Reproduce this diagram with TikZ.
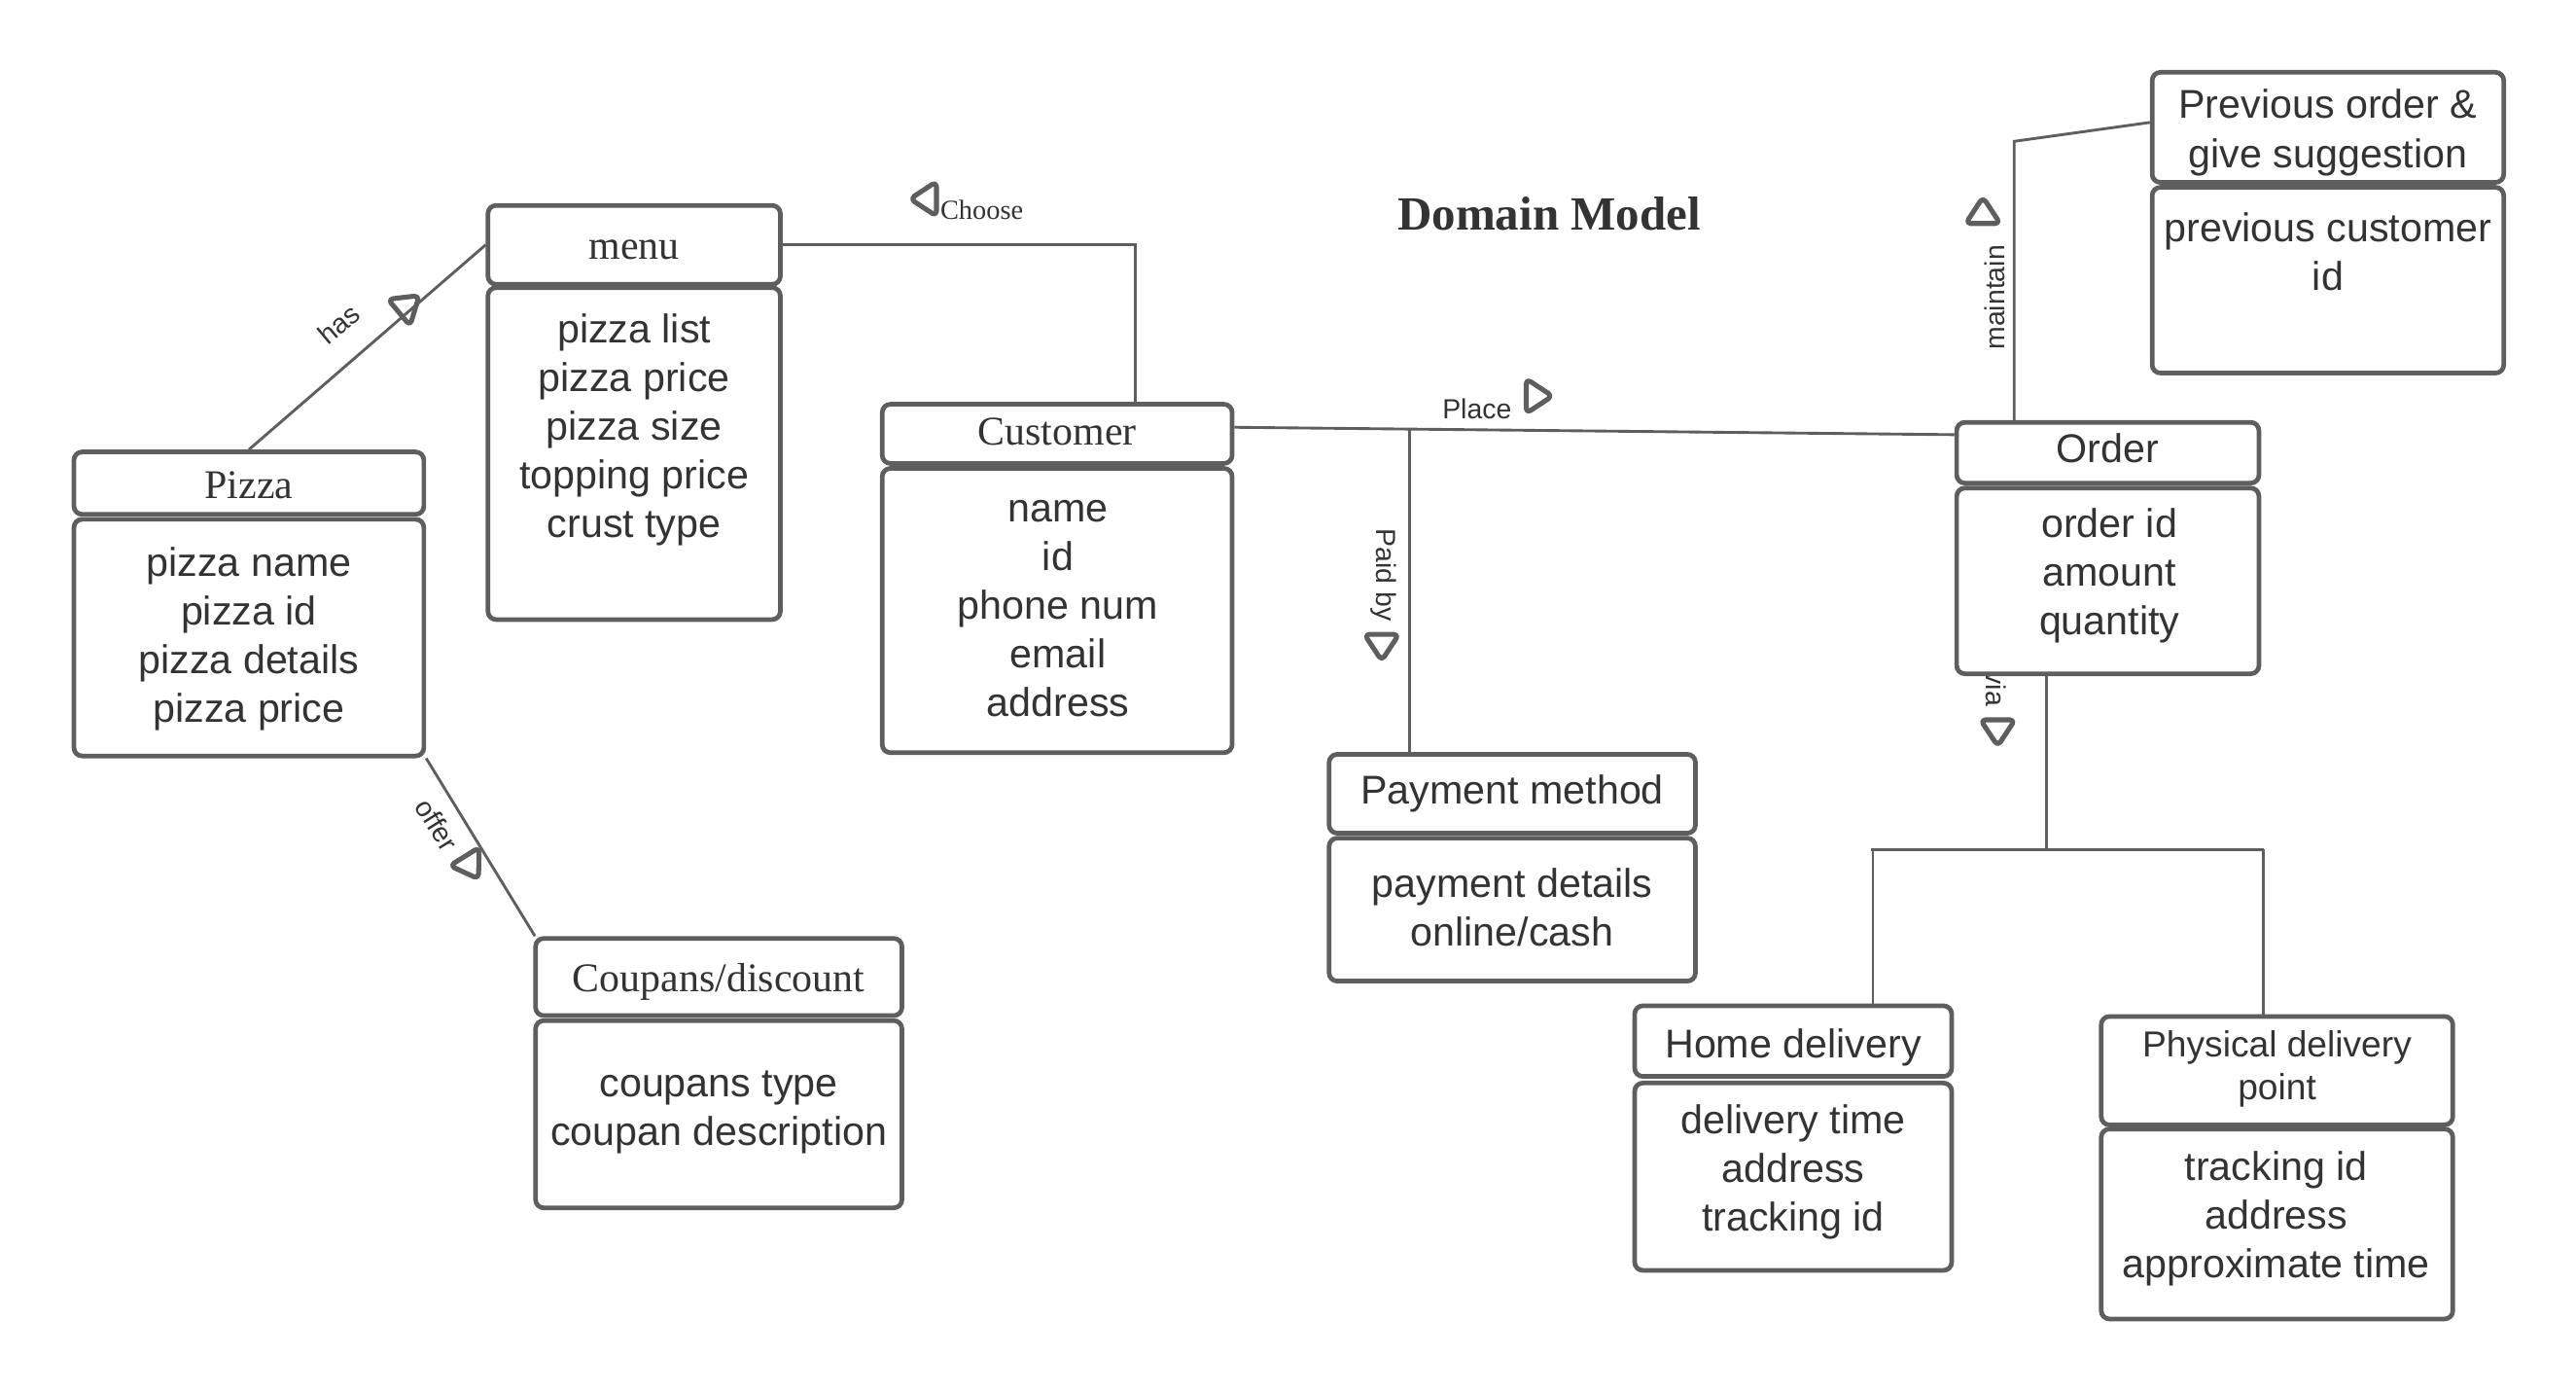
\documentclass[tikz,border=0pt]{standalone}
\usepackage{fontspec}
\setmainfont{Liberation Sans}
\newfontfamily\serifhead{Liberation Serif}
\usetikzlibrary{calc}
\definecolor{boxgray}{HTML}{5E5E5E}
\definecolor{txt}{HTML}{333333}
\newcommand\opentri[3]{\draw[tri, shift={(#1,#2)}, rotate=#3] (8,0) -- (-8,10.5) -- (-8,-10.5) -- cycle;}
\begin{document}
\begin{tikzpicture}[x=0.5pt,y=-0.5pt,
  box/.style={draw=boxgray, line width=1.4pt, rounded corners=2.5pt, fill=white, inner sep=0pt},
  shtxt/.style={text=txt, inner sep=0pt, font=\serifhead\fontsize{12.4}{15}\selectfont},
  hhtxt/.style={text=txt, inner sep=0pt, align=center, font=\fontsize{12.2}{15}\selectfont},
  bodytxt/.style={text=txt, font=\fontsize{12.2}{14.8}\selectfont, align=center, inner sep=0pt},
  conn/.style={draw=boxgray, line width=0.85pt},
  lbl/.style={text=txt, font=\fontsize{8.4}{10}\selectfont, inner sep=0pt},
  tri/.style={draw=boxgray, line width=1.5pt, line join=round, rounded corners=1.5pt},
]
\useasboundingbox (0,0) rectangle (1568,847);

% title
\node[text=txt, font=\serifhead\bfseries\fontsize{14.5}{17}\selectfont] (title) at (943,130) {Domain Model};

% connector labels (drawn first so boxes may cover them)
\node[lbl, rotate=40] (hasL) at (206,197) {has};
\node[lbl, rotate=-58] (offerL) at (266,502) {offer};
\node[lbl, font=\serifhead\fontsize{8.4}{10}\selectfont, anchor=west] (chooseL) at (572,128) {Choose};
\node[lbl] (placeL) at (899,249) {Place};
\node[lbl, rotate=-90] (paidL) at (842,350) {Paid by};
\node[lbl, rotate=90] (maintL) at (1214,181) {maintain};
\node[lbl, rotate=-90] (viaL) at (1215,419) {via};

% boxes: headers and bodies
\node[box, minimum width=106.5pt, minimum height=19pt] (pizzaH) at (151.5,294) {};
\node[box, minimum width=106.5pt, minimum height=72pt] (pizzaB) at (151.5,388) {};
\node[box, minimum width=89pt, minimum height=24pt] (menuH) at (386,149) {};
\node[box, minimum width=89pt, minimum height=101pt] (menuB) at (386,276) {};
\node[box, minimum width=106.5pt, minimum height=18pt] (custH) at (643.5,264) {};
\node[box, minimum width=106.5pt, minimum height=86.5pt] (custB) at (643.5,371.5) {};
\node[box, minimum width=111.5pt, minimum height=23.5pt] (coupH) at (437.5,594.5) {};
\node[box, minimum width=111.5pt, minimum height=57pt] (coupB) at (437.5,678) {};
\node[box, minimum width=111.5pt, minimum height=24pt] (payH) at (920.5,483) {};
\node[box, minimum width=111.5pt, minimum height=43.5pt] (payB) at (920.5,553.5) {};
\node[box, minimum width=92pt, minimum height=18.5pt] (orderH) at (1283,275.5) {};
\node[box, minimum width=92pt, minimum height=56.5pt] (orderB) at (1283,353.5) {};
\node[box, minimum width=107pt, minimum height=33.5pt] (prevH) at (1417,77.5) {};
\node[box, minimum width=107pt, minimum height=56.5pt] (prevB) at (1417,170.5) {};
\node[box, minimum width=96.5pt, minimum height=21.5pt] (homeH) at (1091.5,633.5) {};
\node[box, minimum width=96.5pt, minimum height=57pt] (homeB) at (1091.5,716) {};
\node[box, minimum width=107pt, minimum height=33pt] (physH) at (1386,651.5) {};
\node[box, minimum width=107pt, minimum height=57.8pt] (physB) at (1386,744.8) {};

% header texts
\node[shtxt] (pizzaN) at (151.5,295) {Pizza};
\node[shtxt] (menuN) at (386,152) {menu};
\node[shtxt] (custN) at (643.5,263) {Customer};
\node[shtxt] (coupN) at (437.5,597.5) {Coupans/discount};
\node[hhtxt] (payN) at (920.5,483) {Payment method};
\node[hhtxt] (orderN) at (1283,272.5) {Order};
\node[hhtxt] (prevN) at (1417,80.5) {Previous order \&\\give suggestion};
\node[hhtxt] (homeN) at (1091.5,637.5) {Home delivery};
\node[hhtxt, font=\fontsize{11}{13}\selectfont] (physN) at (1386,650.5) {Physical delivery\\point};

% body texts
\node[bodytxt] (pizzaT) at (151.5,389) {pizza name\\pizza id\\pizza details\\pizza price};
\node[bodytxt] (menuT) at (386,261.5) {pizza list\\pizza price\\pizza size\\topping price\\crust type};
\node[bodytxt] (custT) at (644,370.5) {name\\id\\phone num\\email\\address};
\node[bodytxt] (coupT) at (437.5,677) {coupans type\\coupan description};
\node[bodytxt] (payT) at (920.5,552) {payment details\\online/cash};
\node[bodytxt] (orderT) at (1284,350.5) {order id\\amount\\quantity};
\node[bodytxt] (prevT) at (1417,153) {previous customer\\id};
\node[bodytxt] (homeT) at (1091.5,713) {delivery time\\address\\tracking id};
\node[bodytxt] (physT) at (1385.5,741.5) {tracking id\\address\\approximate time};

% helper coordinates
\coordinate (pl) at (858,261.5);
\coordinate (mt) at (1226,86);
\coordinate (vj) at (1245.7,517);
\coordinate (vl) at (1140,517);
\coordinate (vr) at (1377.7,517);

% connectors
\draw[conn] (pizzaH.north) -- (menuH.west);
\draw[conn] (pizzaB.south east) -- ([xshift=0.5pt]coupH.north west);
\draw[conn] (menuH.east) -| ([xshift=23.75pt]custH.north);
\draw[conn] ([yshift=2pt]custH.east) -- ([yshift=5.5pt]orderH.west);
\draw[conn] (pl) -- (pl |- payH.north);
\draw[conn] (orderH.north -| mt) -- (mt) -- ([yshift=1.5pt]prevH.west);
\draw[conn] (orderB.south -| vj) -- (vj);
\draw[conn] ([xshift=-0.7pt]vl) -- (vr);
\draw[conn] (vl) -- (vl |- homeH.north);
\draw[conn] (vr) -- (vr |- physH.north);

% direction triangles
\opentri{249}{185}{40}
\opentri{287}{528}{-58}
\opentri{562}{121}{180}
\opentri{937}{241}{0}
\opentri{841}{394}{-90}
\opentri{1207}{128}{90}
\opentri{1216}{446}{-90}
\end{tikzpicture}
\end{document}
